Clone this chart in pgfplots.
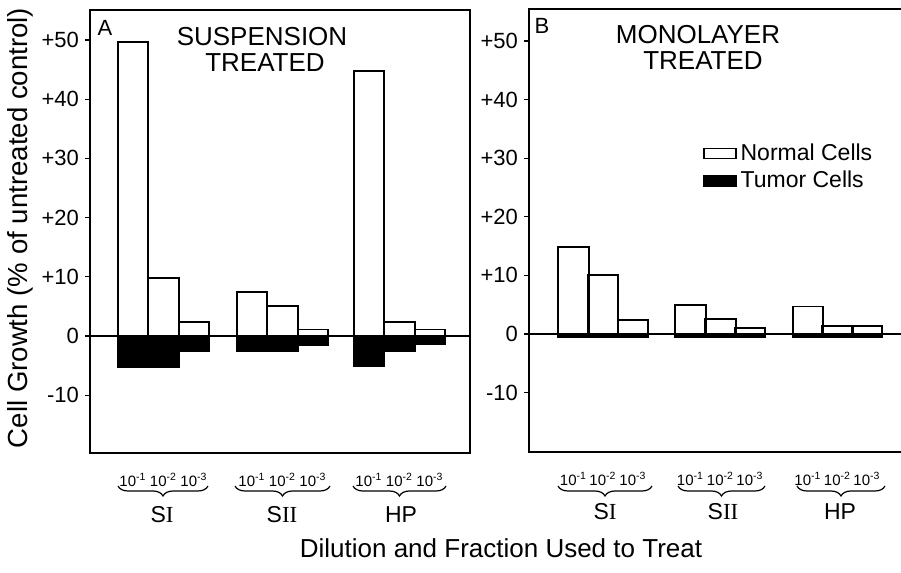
\documentclass[border=0pt]{standalone}
\usepackage{pgfplots}
\pgfplotsset{compat=1.18}
\usepackage{fontspec}
\setmainfont{Liberation Sans}
\newfontfamily\serif{Liberation Serif}
\usetikzlibrary{decorations.pathreplacing}

\pgfplotsset{
  panel/.style={
    scale only axis, height=221.5pt,
    axis line style={line width=0.8pt},
    ytick={-10,0,10,20,30,40,50},
    yticklabels={-10,0,+10,+20,+30,+40,+50},
    ytick pos=left, tick align=outside,
    major tick length=2.5pt,
    ytick style={line width=0.6pt, black},
    yticklabel style={font=\fontsize{11}{11}\selectfont, xshift=0.5pt},
    xtick style={draw=none},
    xticklabels={10\textsuperscript{-1},10\textsuperscript{-2},10\textsuperscript{-3},10\textsuperscript{-1},10\textsuperscript{-2},10\textsuperscript{-3},10\textsuperscript{-1},10\textsuperscript{-2},10\textsuperscript{-3}},
    xticklabel style={font=\fontsize{7.5}{7.5}\selectfont, yshift=-4pt, inner xsep=0pt},
    ybar, bar width=30.5, bar shift=0pt,
    clip=false,
  },
  normal/.style={draw=black, fill=white, line width=0.9pt},
  tumor/.style={draw=black, fill=black, line width=0.9pt},
}

\begin{document}
\begin{tikzpicture}
\useasboundingbox (0,0) rectangle (450.5pt,286.5pt);

% ---------------- Panel A ----------------
\begin{axis}[panel, at={(45pt,60pt)}, anchor=south west,
  width=190pt, xmin=0, xmax=380, ymin=-19.76, ymax=55.07,
  xtick={43,73.5,104,162,192.5,223,279,309.5,340}]
\addplot[normal] coordinates {(43,49.7) (73.5,9.8) (104,2.3) (162,7.4) (192.5,5.1) (223,1.1) (279,44.8) (309.5,2.4) (340,1.1)};
\addplot[tumor] coordinates {(43,-5.3) (73.5,-5.3) (104,-2.5) (162,-2.5) (192.5,-2.5) (223,-1.5) (279,-5.1) (309.5,-2.5) (340,-1.4)};
\draw[line width=0.8pt] (axis cs:0,0) -- (axis cs:380,0);
\end{axis}

% ---------------- Panel B ----------------
\begin{axis}[panel, at={(264.5pt,60.5pt)}, anchor=south west,
  width=190.5pt, xmin=0, xmax=381, ymin=-20.14, ymax=55.46,
  xtick={44.5,74,104,161.5,191.5,221,279,308.5,338},
  legend style={at={(0.44,0.715)}, anchor=north west, draw=none, fill=none,
    font=\fontsize{11.5}{11.5}\selectfont, row sep=0pt},
  legend cell align=left,
  legend image code/.code={\draw[#1, line width=0.8pt] (0pt,-2.5pt) rectangle (16pt,2.5pt);}]
\addplot[normal] coordinates {(44.5,14.9) (74,10.0) (104,2.4) (161.5,4.9) (191.5,2.5) (221,1.0) (279,4.7) (308.5,1.4) (338,1.3)};
\addplot[tumor] coordinates {(44.5,-0.5) (74,-0.5) (104,-0.5) (161.5,-0.5) (191.5,-0.5) (221,-0.5) (279,-0.5) (308.5,-0.5) (338,-0.5)};
\draw[line width=0.8pt] (axis cs:0,0) -- (axis cs:381,0);
\legend{Normal Cells, Tumor Cells}
\end{axis}

% ---------------- annotations (pixel coordinates) ----------------
\begin{scope}[x=0.5pt, y=-0.5pt, shift={(0pt,286.5pt)}]
  \node[font=\fontsize{11}{11}\selectfont] at (105,28) {A};
  \node[font=\fontsize{11}{11}\selectfont] at (542,26) {B};
  \node[font=\fontsize{13}{13}\selectfont] at (262,37) {SUSPENSION};
  \node[font=\fontsize{13}{13}\selectfont] at (265,63) {TREATED};
  \node[font=\fontsize{13}{13}\selectfont] at (698,35) {MONOLAYER};
  \node[font=\fontsize{13}{13}\selectfont] at (703,61) {TREATED};
  \node[font=\fontsize{13.8}{13.8}\selectfont, rotate=90] at (20,228) {Cell Growth (\% of untreated control)};
  \node[font=\fontsize{13}{13}\selectfont] at (501,548) {Dilution and Fraction Used to Treat};
  \foreach \a/\b in {118/208, 235/330, 353/446, 558/652, 678/765, 797/885} {
    \draw[line width=0.6pt, decorate, decoration={brace, mirror, amplitude=5pt}] (\a,486) -- (\b,486);
  }
  \node[font=\fontsize{11.5}{11.5}\selectfont] at (162,515) {S{\serif I}};
  \node[font=\fontsize{11.5}{11.5}\selectfont] at (282,515) {S{\serif II}};
  \node[font=\fontsize{11.5}{11.5}\selectfont] at (401,515) {HP};
  \node[font=\fontsize{11.5}{11.5}\selectfont] at (605,512) {S{\serif I}};
  \node[font=\fontsize{11.5}{11.5}\selectfont] at (723,512) {S{\serif II}};
  \node[font=\fontsize{11.5}{11.5}\selectfont] at (840,512) {HP};
\end{scope}
\end{tikzpicture}
\end{document}
